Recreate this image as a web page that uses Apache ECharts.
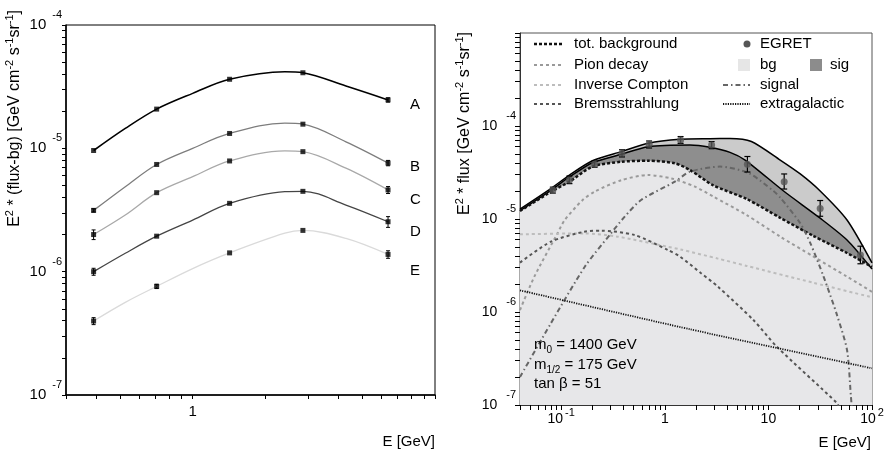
<!DOCTYPE html>
<html><head><meta charset="utf-8">
<script src="https://cdn.jsdelivr.net/npm/echarts@6/dist/echarts.min.js"></script>
<style>html,body{margin:0;padding:0;background:#fff}#c{width:891px;height:451px}</style>
</head><body><div id="c"></div>
<script>
// ================= LEFT PANEL DATA =================
const curveNames = ['A', 'B', 'C', 'D', 'E'];
const leftX = [0.39, 0.71, 1.42, 2.85, 6.4];
const ptsA = [9.6e-6, 2.08e-5, 3.63e-5, 4.1e-5, 2.47e-5];
const ptsB = [3.14e-6, 7.4e-6, 1.32e-5, 1.57e-5, 7.6e-6];
const ptsC = [2.0e-6, 4.37e-6, 7.9e-6, 9.4e-6, 4.6e-6];
const ptsD = [1.0e-6, 1.94e-6, 3.58e-6, 4.48e-6, 2.54e-6];
const ptsE = [3.98e-7, 7.6e-7, 1.42e-6, 2.16e-6, 1.38e-6];
// relative error half-size
const errA = [0, 0, 0, 0, 0.04];
const errB = [0.03, 0, 0, 0, 0.05];
const errC = [0.09, 0, 0, 0, 0.065];
const errD = [0.065, 0, 0, 0, 0.1];
const errE = [0.065, 0.04, 0, 0, 0.07];
// fitted curves
const fitX = [0.39, 0.527, 0.71, 1.0, 1.42, 2.4, 2.85, 4.29, 6.4];
const fitA = [9.6e-6, 1.45e-5, 2.08e-5, 2.79e-5, 3.63e-5, 4.18e-5, 4.1e-5, 3.2e-5, 2.47e-5];
const fitB = [3.14e-6, 4.89e-6, 7.4e-6, 1.0e-5, 1.32e-5, 1.6e-5, 1.57e-5, 1.13e-5, 7.6e-6];
const fitC = [2.0e-6, 2.88e-6, 4.37e-6, 5.9e-6, 7.9e-6, 9.55e-6, 9.4e-6, 6.9e-6, 4.6e-6];
const fitD = [1.0e-6, 1.41e-6, 1.94e-6, 2.62e-6, 3.58e-6, 4.45e-6, 4.48e-6, 3.47e-6, 2.54e-6];
const fitE = [3.98e-7, 5.64e-7, 7.6e-7, 1.06e-6, 1.42e-6, 2.05e-6, 2.16e-6, 1.86e-6, 1.38e-6];
const leftXLabelTicks = [1];
const leftXMajorTicks = [1, 10];
const leftYLabelTicks = [1e-7, 1e-6, 1e-5, 1e-4];
const leftXDecades = [0.1, 1];
const leftYDecades = [1e-7, 1e-6, 1e-5];

// ================= RIGHT PANEL DATA =================
const upX = [0.04, 0.08, 0.12, 0.2, 0.38, 0.69, 1.4, 2.73, 4.26, 6.85, 13.0, 20.3, 31.6, 57.4, 100];
const upY = [1.28e-5, 2.14e-5, 2.97e-5, 4.23e-5, 5.3e-5, 6.52e-5, 7.19e-5, 7.3e-5, 7.34e-5, 6.81e-5, 4.3e-5, 3.05e-5, 2.0e-5, 9.75e-6, 3.37e-6];
const lowX = [0.04, 0.08, 0.12, 0.2, 0.38, 0.69, 1.75, 2.73, 4.26, 5.96, 14.0, 31.6, 57.4, 100];
const lowY = [1.23e-5, 2.05e-5, 2.83e-5, 4.03e-5, 4.96e-5, 5.99e-5, 6.25e-5, 5.9e-5, 5.21e-5, 4.3e-5, 2.0e-5, 1.02e-5, 5.94e-6, 2.9e-6];
const bgX = [0.04, 0.08, 0.12, 0.2, 0.38, 0.69, 1.25, 1.75, 2.94, 6.18, 13.0, 27.3, 57.4, 100];
const bgY = [1.22e-5, 1.97e-5, 2.52e-5, 3.66e-5, 4.13e-5, 4.23e-5, 3.97e-5, 3.36e-5, 2.3e-5, 1.64e-5, 1.03e-5, 6.56e-6, 4.31e-6, 3.05e-6];
const pionX = [0.04, 0.055, 0.092, 0.108, 0.161, 0.21, 0.381, 0.689, 1.16, 1.95, 2.94, 6.18, 13.0, 27.3, 57.4, 100];
const pionY = [1.05e-6, 2.4e-6, 7.0e-6, 9.75e-6, 1.6e-5, 1.97e-5, 2.62e-5, 2.97e-5, 2.73e-5, 2.23e-5, 1.74e-5, 1.10e-5, 6.46e-6, 3.94e-6, 2.40e-6, 1.65e-6];
const icX = [0.04, 0.167, 0.351, 1.07, 1.40, 3.26, 6.18, 27.3, 100];
const icY = [6.84e-6, 7.0e-6, 6.46e-6, 5.03e-6, 4.72e-6, 3.75e-6, 3.13e-6, 2.06e-6, 1.44e-6];
const brX = [0.04, 0.0794, 0.167, 0.242, 0.509, 1.07, 1.40, 2.24, 3.26, 7.16, 12.05, 45.9, 48];
const brY = [3.4e-6, 5.7e-6, 7.3e-6, 7.5e-6, 6.73e-6, 4.65e-6, 3.94e-6, 2.61e-6, 1.87e-6, 8.2e-7, 4.24e-7, 1.05e-7, 9.5e-8];
const sigX = [0.04, 0.0794, 0.17, 0.302, 0.41, 0.59, 1.25, 1.75, 3.4, 6.5, 11.2, 13.0, 20.3, 25.4, 34.1, 45.9, 57.4, 62.6, 64];
const sigY = [2.0e-7, 7.55e-7, 3.1e-6, 7.0e-6, 1.06e-5, 1.6e-5, 2.52e-5, 3.23e-5, 3.66e-5, 3.1e-5, 2.0e-5, 1.7e-5, 9.0e-6, 5.5e-6, 2.4e-6, 9.3e-7, 3.9e-7, 1.23e-7, 9e-8];
const exgX = [0.04, 1.75, 100];
const exgY = [1.71e-6, 6.52e-7, 2.48e-7];
const egretX = [0.083, 0.12, 0.21, 0.386, 0.705, 1.42, 2.83, 6.27, 14.2, 31.6, 77.3];
const egretY = [2.05e-5, 2.63e-5, 3.87e-5, 5.08e-5, 6.35e-5, 7.06e-5, 6.25e-5, 3.87e-5, 2.52e-5, 1.30e-5, 4.1e-6];
const egretLo = [1.9e-5, 2.4e-5, 3.6e-5, 4.65e-5, 5.8e-5, 6.5e-5, 5.7e-5, 3.2e-5, 2.1e-5, 1.07e-5, 3.3e-6];
const egretHi = [2.2e-5, 2.9e-5, 4.2e-5, 5.55e-5, 6.9e-5, 7.7e-5, 6.8e-5, 4.7e-5, 3.05e-5, 1.58e-5, 5.1e-6];
const rightXLabelTicks = [0.1, 1, 10, 100];
const rightYLabelTicks = [1e-7, 1e-6, 1e-5, 1e-4];
const rightYMajorTicks = [1e-7, 1e-6, 1e-5, 1e-4, 1e-3];
const rightXDecades = [0.01, 0.1, 1, 10];
const rightYDecades = [1e-7, 1e-6, 1e-5, 1e-4];
const mantissas = [2, 3, 4, 5, 6, 7, 8, 9];

// ================= HELPERS =================
const FF = '"Liberation Sans", Arial, Helvetica, sans-serif';
function pairs(xs, ys) { return xs.map((x, i) => [x, ys[i]]); }
function minorSet(decades, lo, hi) {
  const out = [];
  decades.forEach(d => mantissas.forEach(m => { const v = +(m * d).toPrecision(6); if (v >= lo * 0.999 && v <= hi * 1.001) out.push(v); }));
  return out;
}
function errData(xs, ys, fr) {
  const out = [];
  xs.forEach((x, i) => { if (fr[i] > 0) out.push([x, ys[i] * (1 - fr[i]), ys[i] * (1 + fr[i])]); });
  return out;
}
function errRender(capW, color, lw) {
  return function (params, api) {
    const x = api.value(0), lo = api.value(1), hi = api.value(2);
    const p1 = api.coord([x, lo]), p2 = api.coord([x, hi]);
    const st = { stroke: color, lineWidth: lw };
    return { type: 'group', children: [
      { type: 'line', shape: { x1: p1[0], y1: p1[1], x2: p2[0], y2: p2[1] }, style: st },
      { type: 'line', shape: { x1: p1[0] - capW, y1: p1[1], x2: p1[0] + capW, y2: p1[1] }, style: st },
      { type: 'line', shape: { x1: p2[0] - capW, y1: p2[1], x2: p2[0] + capW, y2: p2[1] }, style: st }
    ] };
  };
}
function expOf(v) { return Math.round(Math.log10(v)); }

// ================= AXES =================
const leftXRange = [0.3, 10], leftYRange = [1e-7, 1e-4];
const rightXRange = [0.04, 100], rightYRange = [1e-7, 1e-3];

function mainAxis(grid, range, labelVals, tickVals, labelCfg, tickLen, lineCfg) {
  return {
    type: 'log', gridIndex: grid, min: range[0], max: range[1],
    axisLine: lineCfg, splitLine: { show: false },
    axisTick: { length: tickLen, customValues: tickVals, lineStyle: { color: '#000' } },
    axisLabel: Object.assign({ customValues: labelVals }, labelCfg)
  };
}

const leftYLabel = {
  margin: 4,
  formatter: v => '{b|10}{s|' + expOf(v) + '}',
  rich: { b: { fontSize: 15, fontFamily: FF, color: '#000' },
          s: { fontSize: 11, fontFamily: FF, color: '#000', padding: [0, 0, 20, 6] } }
};
const leftXLabel = { margin: 9, formatter: v => String(v), fontSize: 15, fontFamily: FF, color: '#000' };
const rightYLabel = {
  margin: 4,
  formatter: v => '{b|10}{s|' + expOf(v) + '}',
  rich: { b: { fontSize: 14, fontFamily: FF, color: '#000' },
          s: { fontSize: 11, fontFamily: FF, color: '#000', padding: [0, 0, 21, 9] } }
};
const rightXLabel = {
  margin: 2,
  formatter: v => { const e = expOf(v); if (e === 0) return '{b|1}'; if (e === 1) return '{b|10}'; return '{b|10}{s|' + e + '}'; },
  rich: { b: { fontSize: 14, fontFamily: FF, color: '#000', lineHeight: 24 },
          s: { fontSize: 11, fontFamily: FF, color: '#000', padding: [0, 0, 13, 2] } }
};

const xAxes = [
  mainAxis(0, leftXRange, leftXLabelTicks, leftXMajorTicks.concat(minorSet(leftXDecades, 0.3, 9)), leftXLabel, 4, { show: true, lineStyle: { color: '#000', width: 1.5 } }),
  mainAxis(1, rightXRange, rightXLabelTicks, rightXLabelTicks.concat(minorSet(rightXDecades, 0.04, 90)), rightXLabel, 5, { show: true, lineStyle: { color: '#333', width: 1 } })
];
const yAxes = [
  mainAxis(0, leftYRange, leftYLabelTicks, leftYLabelTicks.concat(minorSet(leftYDecades, 1e-7, 1e-4)), leftYLabel, 4, { show: true, lineStyle: { color: '#000', width: 1.5 } }),
  mainAxis(1, rightYRange, rightYLabelTicks, rightYMajorTicks.concat(minorSet(rightYDecades, 1e-7, 1e-3)), rightYLabel, 5, { show: true, lineStyle: { color: '#333', width: 1 } })
];

// ================= SERIES =================
const series = [];
const leftPts = [ptsA, ptsB, ptsC, ptsD, ptsE];
const leftFits = [fitA, fitB, fitC, fitD, fitE];
const leftErrs = [errA, errB, errC, errD, errE];
const leftColors = ['#000000', '#7d7d7d', '#a9a9a9', '#454545', '#dadada'];
const leftWidths = [1.6, 1.3, 1.3, 1.3, 1.3];
curveNames.forEach((n, i) => {
  series.push({ name: 'fit ' + n, type: 'line', xAxisIndex: 0, yAxisIndex: 0, data: pairs(fitX, leftFits[i]),
    smooth: 0.35, showSymbol: false, lineStyle: { color: leftColors[i], width: leftWidths[i] }, silent: true });
});
curveNames.forEach((n, i) => {
  series.push({ name: 'err ' + n, type: 'custom', xAxisIndex: 0, yAxisIndex: 0, data: errData(leftX, leftPts[i], leftErrs[i]),
    encode: { x: 0, y: [1, 2] }, renderItem: errRender(2, '#000', 1), silent: true, z: 3 });
  series.push({ name: n, type: 'scatter', xAxisIndex: 0, yAxisIndex: 0, data: pairs(leftX, leftPts[i]),
    symbol: 'rect', symbolSize: 5, itemStyle: { color: '#000' }, z: 4 });
});

// right panel: filled regions then component lines
series.push({ name: 'upper', type: 'line', xAxisIndex: 1, yAxisIndex: 1, data: pairs(upX, upY), smooth: 0.25, showSymbol: false,
  lineStyle: { color: '#000', width: 1.5 }, areaStyle: { color: '#cbcbcb', opacity: 1, origin: 'start' } });
series.push({ name: 'sig', type: 'line', xAxisIndex: 1, yAxisIndex: 1, data: pairs(lowX, lowY), smooth: 0.25, showSymbol: false,
  lineStyle: { color: '#000', width: 1.5 }, areaStyle: { color: '#8e8e8e', opacity: 1, origin: 'start' } });
series.push({ name: 'tot. background', type: 'line', xAxisIndex: 1, yAxisIndex: 1, data: pairs(bgX, bgY), smooth: 0.25, showSymbol: false,
  lineStyle: { color: '#111', width: 2.5, type: [3, 2] }, areaStyle: { color: '#e7e7e9', opacity: 1, origin: 'start' } });
series.push({ name: 'Pion decay', type: 'line', xAxisIndex: 1, yAxisIndex: 1, data: pairs(pionX, pionY), smooth: 0.25, showSymbol: false,
  lineStyle: { color: '#9a9a9a', width: 2, type: [3, 3] } });
series.push({ name: 'Inverse Compton', type: 'line', xAxisIndex: 1, yAxisIndex: 1, data: pairs(icX, icY), smooth: 0.25, showSymbol: false,
  lineStyle: { color: '#bdbdbd', width: 2, type: [3, 3] } });
series.push({ name: 'Bremsstrahlung', type: 'line', xAxisIndex: 1, yAxisIndex: 1, data: pairs(brX, brY), smooth: 0.25, showSymbol: false,
  lineStyle: { color: '#555', width: 2, type: [3, 3] } });
series.push({ name: 'signal', type: 'line', xAxisIndex: 1, yAxisIndex: 1, data: pairs(sigX, sigY), smooth: 0.25, showSymbol: false,
  lineStyle: { color: '#666', width: 2, type: [5, 3, 1.5, 3] } });
series.push({ name: 'extragalactic', type: 'line', xAxisIndex: 1, yAxisIndex: 1, data: pairs(exgX, exgY), smooth: 0.2, showSymbol: false,
  lineStyle: { color: '#111', width: 1.8, type: [1.2, 1.2] } });
series.push({ name: 'EGRET err', type: 'custom', xAxisIndex: 1, yAxisIndex: 1,
  data: egretX.map((x, i) => [x, egretLo[i], egretHi[i]]), encode: { x: 0, y: [1, 2] },
  renderItem: errRender(3, '#000', 1.2), silent: true, z: 5 });
series.push({ name: 'EGRET', type: 'scatter', xAxisIndex: 1, yAxisIndex: 1, data: pairs(egretX, egretY),
  symbol: 'circle', symbolSize: 7, itemStyle: { color: '#565656' }, z: 6 });

// ================= GRAPHIC (titles, legend, notes) =================
const txt = (x, y, text, extra) => ({ type: 'text', x, y, z: 100,
  style: Object.assign({ text, fontSize: 15, fontFamily: FF, fill: '#000', verticalAlign: 'middle', align: 'left' }, extra || {}) });
const supRich = { s: { fontSize: 11, fontFamily: FF, fill: '#000', padding: [0, 0, 10, 0] } };
const subRich = { sub: { fontSize: 10, fontFamily: FF, fill: '#000', padding: [11, 0, 0, 0] } };
const leg = (x1, x2, y, stroke, w, dash) => ({ type: 'line', z: 100, shape: { x1, y1: y, x2, y2: y }, style: { stroke, lineWidth: w, lineDash: dash } });
const letterY = [105, 167, 200, 232, 271];

const graphic = [
  { type: 'text', x: 15, y: 10, rotation: Math.PI / 2, z: 100,
    style: { text: 'E{s|2} * (flux-bg) [GeV cm{s|-2} s{s|-1}sr{s|-1}]', fontSize: 16, fontFamily: FF, fill: '#000', align: 'right', verticalAlign: 'middle', rich: supRich } },
  { type: 'text', x: 465, y: 32, rotation: Math.PI / 2, z: 100,
    style: { text: 'E{s|2} * flux [GeV cm{s|-2} s{s|-1}sr{s|-1}]', fontSize: 16, fontFamily: FF, fill: '#000', align: 'right', verticalAlign: 'middle', rich: supRich } },
  txt(435, 442, 'E [GeV]', { align: 'right' }),
  txt(871, 443, 'E [GeV]', { align: 'right' }),
  // legend, left column
  leg(534, 562, 44, '#111', 2.5, [3, 2]), txt(574, 44, 'tot. background'),
  leg(534, 562, 65, '#9a9a9a', 2, [3, 3]), txt(574, 65, 'Pion decay'),
  leg(534, 562, 85, '#bdbdbd', 2, [3, 3]), txt(574, 85, 'Inverse Compton'),
  leg(534, 562, 104, '#555', 2, [3, 3]), txt(574, 104, 'Bremsstrahlung'),
  // legend, right column
  { type: 'circle', z: 100, shape: { cx: 747, cy: 44, r: 3.5 }, style: { fill: '#565656' } }, txt(760, 44, 'EGRET'),
  { type: 'rect', z: 100, shape: { x: 738, y: 59, width: 12, height: 12 }, style: { fill: '#e6e6e6' } }, txt(760, 65, 'bg'),
  { type: 'rect', z: 100, shape: { x: 810, y: 59, width: 12, height: 12 }, style: { fill: '#8c8c8c' } }, txt(830, 65, 'sig'),
  leg(723, 750, 85, '#666', 2, [5, 3, 1.5, 3]), txt(760, 85, 'signal'),
  leg(723, 750, 104, '#111', 1.8, [1.2, 1.2]), txt(760, 104, 'extragalactic'),
  // parameters
  txt(534, 345, 'm{sub|0} = 1400 GeV', { rich: subRich }),
  txt(534, 365, 'm{sub|1/2} = 175 GeV', { rich: subRich }),
  txt(534, 384, 'tan β = 51')
];
curveNames.forEach((n, i) => graphic.push(txt(410, letterY[i], n)));

const option = {
  animation: false,
  grid: [
    { left: 66, top: 25, width: 369, height: 370, show: true, borderColor: '#000', borderWidth: 1 },
    { left: 520, top: 33, width: 352, height: 372, show: true, borderColor: '#555', borderWidth: 1 }
  ],
  xAxis: xAxes,
  yAxis: yAxes,
  series: series,
  graphic: graphic
};
const chart = echarts.init(document.getElementById('c'));
chart.setOption(option);
</script>
</body></html>
